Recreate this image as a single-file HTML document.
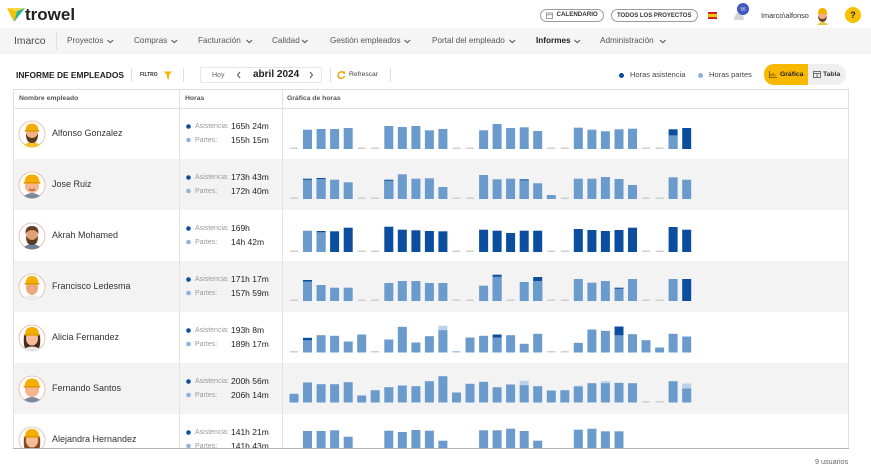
<!DOCTYPE html>
<html><head><meta charset="utf-8">
<style>
html,body{margin:0;padding:0}
body{width:871px;height:471px;position:relative;overflow:hidden;background:#fff;font-family:"Liberation Sans",Arial,sans-serif;color:#333}
.a{position:absolute;white-space:nowrap;line-height:1}
.nav{font-size:8.2px;color:#555;top:37.4px}
.vd{position:absolute;width:1px;background:#dedede}
.th{font-size:6.8px;font-weight:bold;color:#555;top:95.6px}
.nm{font-size:9px;color:#333}
.lb{font-size:7px;color:#9a9a9a}
.vl{font-size:8.5px;color:#222}
.L{fill:#6b9bcc}.K{fill:#0b4e9d}.P{fill:#bcd1ea}.D{fill:#cfcfcf}.PD{fill:#a9c4e4}
</style></head><body>

<!-- top header -->
<svg class="a" style="left:0;top:0" width="30" height="28">
<polygon points="7,8 17,11 14,22" fill="#f5c400"/>
<polygon points="14,22 17,11 25,8" fill="#2fb3a0"/>
<polygon points="7,8 25,8 17,11" fill="#f8d84a"/>
</svg>
<div class="a" style="left:25px;top:5.5px;font-size:17px;font-weight:bold;color:#222">trowel</div>

<div class="a" style="left:540px;top:9px;width:62px;height:11px;border:1px solid #9a9a9a;border-radius:7px"></div>
<svg class="a" style="left:546px;top:12px" width="7" height="7"><rect x="0.5" y="1" width="6" height="5.5" fill="none" stroke="#888" stroke-width="0.8"/><line x1="0.5" y1="2.8" x2="6.5" y2="2.8" stroke="#888" stroke-width="0.8"/></svg>
<div class="a" style="left:556.5px;top:12.4px;font-size:6.2px;font-weight:bold;color:#333">CALENDARIO</div>
<div class="a" style="left:611px;top:9px;width:85px;height:11px;border:1px solid #9a9a9a;border-radius:7px"></div>
<div class="a" style="left:617px;top:12.5px;font-size:6px;font-weight:bold;color:#333">TODOS LOS PROYECTOS</div>
<svg class="a" style="left:708px;top:12px" width="9" height="7"><rect width="9" height="7" fill="#c8102e"/><rect y="1.8" width="9" height="3.4" fill="#f4c300"/></svg>
<svg class="a" style="left:730px;top:2px" width="22" height="22">
<path d="M4 18 Q5 11 9 10 Q13 11 14 18 Z" fill="#d4d4d4"/>
<circle cx="13" cy="7" r="6" fill="#4457c0"/>
<text x="13" y="8.6" font-size="4.5" fill="#fff" text-anchor="middle" font-family="Liberation Sans">55</text>
</svg>
<div class="a" style="left:761px;top:12.4px;font-size:7.3px;color:#333">Imarco\alfonso</div>
<svg class="a" style="left:815px;top:6px" width="15" height="19">
<path d="M2 19 Q7.5 13 13 19Z" fill="#e9c531"/>
<ellipse cx="7.5" cy="10" rx="4.5" ry="5" fill="#f0b088"/>
<path d="M3 8 Q3 2 7.5 2 Q12 2 12 8Z" fill="#f2b200"/>
<path d="M3 10 Q3.5 16 7.5 16 Q11.5 16 12 10 Q10 13 7.5 13 Q5 13 3 10Z" fill="#6b3f22"/>
</svg>
<div class="a" style="left:845px;top:7px;width:16px;height:16px;border-radius:50%;background:#f7c000"></div>
<div class="a" style="left:850.3px;top:10.5px;font-size:9px;font-weight:bold;color:#222">?</div>

<!-- nav bar -->
<div class="a" style="left:0;top:28px;width:871px;height:26px;background:#f5f5f5"></div>
<div class="a" style="left:14px;top:36.5px;font-size:10.3px;color:#4a4a4a">Imarco</div>
<div class="vd" style="left:56px;top:33px;height:17px"></div>
<div class="a nav" style="left:67px">Proyectos</div>
<div class="a nav" style="left:134px">Compras</div>
<div class="a nav" style="left:198px">Facturación</div>
<div class="a nav" style="left:272px">Calidad</div>
<div class="a nav" style="left:330px">Gestión empleados</div>
<div class="a nav" style="left:432px">Portal del empleado</div>
<div class="a nav" style="left:536px;font-weight:bold;color:#222">Informes</div>
<div class="a nav" style="left:600px">Administración</div>
<svg class="a" style="left:0;top:0" width="871" height="60">
<g stroke="#555" stroke-width="1.1" fill="none">
<path d="M107.5 40l2.8 2.6 2.8-2.6"/>
<path d="M171.5 40l2.8 2.6 2.8-2.6"/>
<path d="M246.5 40l2.8 2.6 2.8-2.6"/>
<path d="M302 40l2.8 2.6 2.8-2.6"/>
<path d="M404.5 40l2.8 2.6 2.8-2.6"/>
<path d="M509.5 40l2.8 2.6 2.8-2.6"/>
<path d="M574.5 40l2.8 2.6 2.8-2.6"/>
<path d="M660 40l2.8 2.6 2.8-2.6"/>
</g></svg>

<!-- toolbar -->
<div class="a" style="left:16px;top:70.8px;font-size:8.4px;font-weight:bold;color:#222">INFORME DE EMPLEADOS</div>
<div class="vd" style="left:131px;top:68px;height:14px"></div>
<div class="a" style="left:140px;top:72.5px;font-size:5px;font-weight:bold;color:#333">FILTRO</div>
<svg class="a" style="left:164px;top:71px" width="8" height="9"><path d="M0 0.5H8L5 4.2V8.5L3 7.5V4.2Z" fill="#f5b800"/></svg>
<div class="vd" style="left:183px;top:68px;height:14px"></div>
<div class="a" style="left:200px;top:67px;width:120px;height:14px;border:1px solid #e6e6e6;border-radius:2px"></div>
<div class="a" style="left:212px;top:71.5px;font-size:7px;color:#666">Hoy</div>
<svg class="a" style="left:236px;top:71px" width="6" height="8"><path d="M4 1L1.5 4 4 7" stroke="#555" stroke-width="1" fill="none"/></svg>
<div class="a" style="left:253px;top:70px;font-size:10px;font-weight:bold;color:#222">abril 2024</div>
<svg class="a" style="left:308px;top:71px" width="6" height="8"><path d="M2 1L4.5 4 2 7" stroke="#555" stroke-width="1" fill="none"/></svg>
<div class="vd" style="left:330px;top:68px;height:14px"></div>
<svg class="a" style="left:337px;top:70px" width="9" height="10"><path d="M7 3.2A3.3 3.3 0 1 0 7.5 6" stroke="#f0a000" stroke-width="1.4" fill="none"/><path d="M5.2 1.2L8.2 1.5 7.6 4.4Z" fill="#f0a000"/></svg>
<div class="a" style="left:349px;top:71.6px;font-size:6.7px;color:#444">Refrescar</div>
<div class="vd" style="left:390px;top:68px;height:14px"></div>

<div class="a" style="left:618.5px;top:72.5px;width:5px;height:5px;border-radius:50%;background:#0b4e9d"></div>
<div class="a" style="left:630px;top:71.2px;font-size:7.5px;color:#444">Horas asistencia</div>
<div class="a" style="left:697.5px;top:72.5px;width:5px;height:5px;border-radius:50%;background:#8fb3da"></div>
<div class="a" style="left:709px;top:71.2px;font-size:7.5px;color:#444">Horas partes</div>
<div class="a" style="left:764px;top:64px;width:44px;height:21px;background:#f8b800;border-radius:10px 0 0 10px"></div>
<div class="a" style="left:808px;top:64px;width:38px;height:21px;background:#efefef;border-radius:0 10px 10px 0"></div>
<svg class="a" style="left:769px;top:71px" width="8" height="7"><path d="M0.5 0V6.5H8" stroke="#6b4a00" stroke-width="0.8" fill="none"/><path d="M2 5V3M4 5V2M6 5V3.5" stroke="#6b4a00" stroke-width="0.9"/></svg>
<div class="a" style="left:780px;top:71.6px;font-size:6.8px;font-weight:bold;color:#222">Gráfica</div>
<svg class="a" style="left:813px;top:71px" width="8" height="7"><rect x="0.5" y="0.5" width="7" height="6" fill="none" stroke="#555" stroke-width="0.8"/><path d="M0.5 2.5H7.5M4 2.5V6.5" stroke="#555" stroke-width="0.8"/></svg>
<div class="a" style="left:823px;top:71.6px;font-size:6.8px;font-weight:bold;color:#333">Tabla</div>

<!-- table -->
<div class="a" style="left:0;top:0;width:871px;height:448px;overflow:hidden">
<div class="a" style="left:13px;top:89px;width:835px;height:1px;background:#dcdcdc"></div>
<div class="a" style="left:13px;top:107.5px;width:835px;height:1px;background:#e2e2e2"></div>
<div class="a" style="left:14px;top:159px;width:834px;height:51px;background:#f3f3f3"></div>
<div class="a" style="left:14px;top:261px;width:834px;height:51px;background:#f3f3f3"></div>
<div class="a" style="left:14px;top:363px;width:834px;height:51px;background:#f3f3f3"></div>
<div class="vd" style="left:13px;top:89px;height:360px;background:#e0e0e0"></div>
<div class="vd" style="left:179px;top:89px;height:360px;background:#e2e2e2"></div>
<div class="vd" style="left:282px;top:89px;height:360px;background:#e2e2e2"></div>
<div class="vd" style="left:848px;top:89px;height:360px;background:#e0e0e0"></div>

<div class="a th" style="left:19px">Nombre empleado</div>
<div class="a th" style="left:185px">Horas</div>
<div class="a th" style="left:287px">Gráfica de horas</div>

<!-- avatars -->
<svg class="a" style="left:18px;top:119.5px" width="28" height="28"><circle cx="14" cy="14" r="13" fill="#fff" stroke="#e4b7a6" stroke-width="0.8"/><path d="M6 25 Q14 19 22 25 Q18 27.5 14 27.5 Q10 27.5 6 25Z" fill="#f0c22c"/><ellipse cx="14" cy="14" rx="6" ry="7" fill="#f2b083"/><path d="M7.5 11 Q7.5 3.5 14 3.5 Q20.5 3.5 20.5 11Z" fill="#f4ae00"/><rect x="6.5" y="10" width="15" height="1.6" rx="0.8" fill="#e09a00"/><path d="M8 14 Q8 23 14 23 Q20 23 20 14 Q17.5 18 14 18 Q10.5 18 8 14Z" fill="#5b3a22"/></svg>
<svg class="a" style="left:18px;top:170.5px" width="28" height="28"><circle cx="14" cy="14" r="13" fill="#fff" stroke="#e4b7a6" stroke-width="0.8"/><path d="M6 25 Q14 19 22 25 Q18 27.5 14 27.5 Q10 27.5 6 25Z" fill="#7a8aa0"/><ellipse cx="14" cy="15" rx="7" ry="7" fill="#f4b48c"/><path d="M6.5 12 Q6.5 3.5 14 3.5 Q21.5 3.5 21.5 12Z" fill="#f4ae00"/><rect x="5.5" y="11" width="17" height="1.6" rx="0.8" fill="#e09a00"/><path d="M11 18 Q14 20.5 17 18" stroke="#8a3b2a" stroke-width="0.9" fill="none"/></svg>
<svg class="a" style="left:18px;top:221.5px" width="28" height="28"><circle cx="14" cy="14" r="13" fill="#fff" stroke="#e4b7a6" stroke-width="0.8"/><path d="M6 25 Q14 19 22 25 Q18 27.5 14 27.5 Q10 27.5 6 25Z" fill="#6d7f96"/><ellipse cx="14" cy="14" rx="6" ry="7" fill="#e3a077"/><path d="M7.5 12 Q7 4 14 4 Q21 4 20.5 12 Q18 8 14 8 Q10 8 7.5 12Z" fill="#6b3f22"/><path d="M8 14 Q8 23 14 23 Q20 23 20 14 Q17.5 18 14 18 Q10.5 18 8 14Z" fill="#5b3a22"/></svg>
<svg class="a" style="left:18px;top:272.5px" width="28" height="28"><circle cx="14" cy="14" r="13" fill="#fff" stroke="#e4b7a6" stroke-width="0.8"/><path d="M6 25 Q14 19 22 25 Q18 27.5 14 27.5 Q10 27.5 6 25Z" fill="#ececec"/><ellipse cx="14" cy="14.5" rx="6" ry="7.5" fill="#e9a97d"/><path d="M7.5 11 Q7.5 3 14 3 Q20.5 3 20.5 11Z" fill="#f4ae00"/><rect x="6.5" y="10" width="15" height="1.6" rx="0.8" fill="#e09a00"/></svg>
<svg class="a" style="left:18px;top:323.5px" width="28" height="28"><circle cx="14" cy="14" r="13" fill="#fff" stroke="#e4b7a6" stroke-width="0.8"/><path d="M6 11 Q5 22 8 26 L20 26 Q23 22 22 11Z" fill="#4a2a1c"/><path d="M6 25 Q14 20 22 25 Q18 27.5 14 27.5 Q10 27.5 6 25Z" fill="#e7e7e7"/><ellipse cx="14" cy="14.5" rx="6" ry="7" fill="#f4bd98"/><path d="M7 11 Q7 3 14 3 Q21 3 21 11Z" fill="#f4ae00"/><rect x="6" y="10" width="16" height="1.6" rx="0.8" fill="#e09a00"/></svg>
<svg class="a" style="left:18px;top:374.5px" width="28" height="28"><circle cx="14" cy="14" r="13" fill="#fff" stroke="#e4b7a6" stroke-width="0.8"/><path d="M6 25 Q14 19 22 25 Q18 27.5 14 27.5 Q10 27.5 6 25Z" fill="#7a8aa0"/><ellipse cx="14" cy="15" rx="7" ry="7" fill="#f4b48c"/><path d="M6.5 12 Q6.5 3.5 14 3.5 Q21.5 3.5 21.5 12Z" fill="#f4ae00"/><rect x="5.5" y="11" width="17" height="1.6" rx="0.8" fill="#e09a00"/></svg>
<svg class="a" style="left:18px;top:425.5px" width="28" height="28"><circle cx="14" cy="14" r="13" fill="#fff" stroke="#e4b7a6" stroke-width="0.8"/><path d="M6 11 Q5 22 8 26 L20 26 Q23 22 22 11Z" fill="#8a4a2a"/><ellipse cx="14" cy="14.5" rx="6" ry="7" fill="#f4bd98"/><path d="M7 11 Q7 3 14 3 Q21 3 21 11Z" fill="#f4ae00"/><rect x="6" y="10" width="16" height="1.6" rx="0.8" fill="#e09a00"/></svg>

<!-- names -->
<div class="a nm" style="left:52px;top:129px">Alfonso Gonzalez</div>
<div class="a nm" style="left:52px;top:180px">Jose Ruiz</div>
<div class="a nm" style="left:52px;top:231px">Akrah Mohamed</div>
<div class="a nm" style="left:52px;top:282px">Francisco Ledesma</div>
<div class="a nm" style="left:52px;top:333px">Alicia Fernandez</div>
<div class="a nm" style="left:52px;top:384px">Fernando Santos</div>
<div class="a nm" style="left:52px;top:435px">Alejandra Hernandez</div>

<!-- hours -->
<svg class="a" style="left:0;top:0" width="200" height="449">
<g fill="#0b4e9d"><circle cx="188.5" cy="126.5" r="2.3"/><circle cx="188.5" cy="177.5" r="2.3"/><circle cx="188.5" cy="228.5" r="2.3"/><circle cx="188.5" cy="279.5" r="2.3"/><circle cx="188.5" cy="330.5" r="2.3"/><circle cx="188.5" cy="381.5" r="2.3"/><circle cx="188.5" cy="432.5" r="2.3"/></g>
<g fill="#8fb3da"><circle cx="188.5" cy="140" r="2.3"/><circle cx="188.5" cy="191" r="2.3"/><circle cx="188.5" cy="242" r="2.3"/><circle cx="188.5" cy="293" r="2.3"/><circle cx="188.5" cy="344" r="2.3"/><circle cx="188.5" cy="395" r="2.3"/><circle cx="188.5" cy="446" r="2.3"/></g>
</svg>
<div class="a lb" style="left:195px;top:123px">Asistencia:</div><div class="a vl" style="left:231px;top:122.2px">165h 24m</div>
<div class="a lb" style="left:195px;top:136.5px">Partes:</div><div class="a vl" style="left:231px;top:135.7px">155h 15m</div>
<div class="a lb" style="left:195px;top:174px">Asistencia:</div><div class="a vl" style="left:231px;top:173.2px">173h 43m</div>
<div class="a lb" style="left:195px;top:187.5px">Partes:</div><div class="a vl" style="left:231px;top:186.7px">172h 40m</div>
<div class="a lb" style="left:195px;top:225px">Asistencia:</div><div class="a vl" style="left:231px;top:224.2px">169h</div>
<div class="a lb" style="left:195px;top:238.5px">Partes:</div><div class="a vl" style="left:231px;top:237.7px">14h 42m</div>
<div class="a lb" style="left:195px;top:276px">Asistencia:</div><div class="a vl" style="left:231px;top:275.2px">171h 17m</div>
<div class="a lb" style="left:195px;top:289.5px">Partes:</div><div class="a vl" style="left:231px;top:288.7px">157h 59m</div>
<div class="a lb" style="left:195px;top:327px">Asistencia:</div><div class="a vl" style="left:231px;top:326.2px">193h 8m</div>
<div class="a lb" style="left:195px;top:340.5px">Partes:</div><div class="a vl" style="left:231px;top:339.7px">189h 17m</div>
<div class="a lb" style="left:195px;top:378px">Asistencia:</div><div class="a vl" style="left:231px;top:377.2px">200h 56m</div>
<div class="a lb" style="left:195px;top:391.5px">Partes:</div><div class="a vl" style="left:231px;top:390.7px">206h 14m</div>
<div class="a lb" style="left:195px;top:429px">Asistencia:</div><div class="a vl" style="left:231px;top:428.2px">141h 21m</div>
<div class="a lb" style="left:195px;top:442.5px">Partes:</div><div class="a vl" style="left:231px;top:441.7px">141h 43m</div>

<!-- bars -->
<svg class="a" style="left:0;top:0" width="871" height="448">
<g transform="translate(0,149) scale(1,-1)">
<rect class="D" x="290" width="8" height="1.5"/><rect class="D" x="357.7" width="8" height="1.5"/><rect class="D" x="371.2" width="8" height="1.5"/><rect class="D" x="452.5" width="8" height="1.5"/><rect class="D" x="466" width="8" height="1.5"/><rect class="D" x="547.3" width="8" height="1.5"/><rect class="D" x="560.8" width="8" height="1.5"/><rect class="D" x="642" width="8" height="1.5"/><rect class="D" x="655.6" width="8" height="1.5"/>
<rect class="L" x="303" width="9" height="19.3"/><rect class="L" x="316.6" width="9" height="20"/><rect class="L" x="330.1" width="9" height="20"/><rect class="L" x="343.7" width="9" height="21"/><rect class="L" x="384.3" width="9" height="23"/><rect class="L" x="397.8" width="9" height="22"/><rect class="L" x="411.4" width="9" height="23"/><rect class="L" x="424.9" width="9" height="18.7"/><rect class="L" x="438.4" width="9" height="20"/><rect class="L" x="479.1" width="9" height="18.7"/><rect class="L" x="492.6" width="9" height="25"/><rect class="L" x="506.1" width="9" height="21"/><rect class="L" x="519.7" width="9" height="21.7"/><rect class="L" x="533.2" width="9" height="18"/><rect class="L" x="573.8" width="9" height="21.3"/><rect class="L" x="587.4" width="9" height="19.3"/><rect class="L" x="600.9" width="9" height="17.7"/><rect class="L" x="614.5" width="9" height="19.7"/><rect class="L" x="628" width="9" height="20.3"/>
<rect class="K" x="668.6" width="9" height="19.7"/><rect class="L" x="668.6" width="9" height="13.7"/><rect class="K" x="682.2" width="9" height="21"/>
</g>
<g transform="translate(0,199) scale(1,-1)">
<rect class="D" x="290" width="8" height="1.5"/><rect class="D" x="357.7" width="8" height="1.5"/><rect class="D" x="371.2" width="8" height="1.5"/><rect class="D" x="452.5" width="8" height="1.5"/><rect class="D" x="466" width="8" height="1.5"/><rect class="D" x="560.8" width="8" height="1.5"/><rect class="D" x="642" width="8" height="1.5"/><rect class="D" x="655.6" width="8" height="1.5"/>
<rect class="K" x="303" width="9" height="20.3"/><rect class="L" x="303" width="9" height="19.3"/>
<rect class="K" x="316.6" width="9" height="21"/><rect class="L" x="316.6" width="9" height="20"/>
<rect class="L" x="330.1" width="9" height="19.3"/><rect class="L" x="343.7" width="9" height="16.7"/>
<rect class="K" x="384.3" width="9" height="19.3"/><rect class="L" x="384.3" width="9" height="18.3"/>
<rect class="L" x="397.8" width="9" height="24.7"/><rect class="L" x="411.4" width="9" height="20.3"/><rect class="L" x="424.9" width="9" height="20.7"/><rect class="L" x="438.4" width="9" height="12"/>
<rect class="L" x="479.1" width="9" height="24"/><rect class="L" x="492.6" width="9" height="19.7"/><rect class="L" x="506.1" width="9" height="20.3"/>
<rect class="K" x="519.7" width="9" height="19.7"/><rect class="L" x="519.7" width="9" height="18.7"/>
<rect class="L" x="533.2" width="9" height="15.7"/><rect class="L" x="546.8" width="9" height="4"/>
<rect class="L" x="573.8" width="9" height="20.3"/><rect class="L" x="587.4" width="9" height="20.3"/><rect class="L" x="600.9" width="9" height="22"/><rect class="L" x="614.5" width="9" height="20"/><rect class="L" x="628" width="9" height="14"/>
<rect class="L" x="668.6" width="9" height="21.7"/><rect class="L" x="682.2" width="9" height="19.3"/>
</g>
<g transform="translate(0,252) scale(1,-1)">
<rect class="D" x="290" width="8" height="1.5"/><rect class="D" x="357.7" width="8" height="1.5"/><rect class="D" x="371.2" width="8" height="1.5"/><rect class="D" x="452.5" width="8" height="1.5"/><rect class="D" x="466" width="8" height="1.5"/><rect class="D" x="547.3" width="8" height="1.5"/><rect class="D" x="560.8" width="8" height="1.5"/><rect class="D" x="642" width="8" height="1.5"/><rect class="D" x="655.6" width="8" height="1.5"/>
<rect class="L" x="303" width="9" height="21.3"/>
<rect class="K" x="316.6" width="9" height="21"/><rect class="L" x="316.6" width="9" height="19.8"/>
<rect class="K" x="330.1" width="9" height="20.7"/><rect class="K" x="343.7" width="9" height="24.3"/>
<rect class="K" x="384.3" width="9" height="25.3"/><rect class="K" x="397.8" width="9" height="22.3"/><rect class="K" x="411.4" width="9" height="21.7"/><rect class="K" x="424.9" width="9" height="21"/><rect class="K" x="438.4" width="9" height="20.7"/>
<rect class="K" x="479.1" width="9" height="22.3"/><rect class="K" x="492.6" width="9" height="21.3"/><rect class="K" x="506.1" width="9" height="19"/><rect class="K" x="519.7" width="9" height="21.3"/><rect class="K" x="533.2" width="9" height="21.3"/>
<rect class="K" x="573.8" width="9" height="23"/><rect class="K" x="587.4" width="9" height="22"/><rect class="K" x="600.9" width="9" height="21"/><rect class="K" x="614.5" width="9" height="22"/><rect class="K" x="628" width="9" height="24.3"/>
<rect class="K" x="668.6" width="9" height="25"/><rect class="K" x="682.2" width="9" height="22.3"/>
</g>
<g transform="translate(0,301) scale(1,-1)">
<rect class="D" x="290" width="8" height="1.5"/><rect class="D" x="357.7" width="8" height="1.5"/><rect class="D" x="371.2" width="8" height="1.5"/><rect class="D" x="452.5" width="8" height="1.5"/><rect class="D" x="466" width="8" height="1.5"/><rect class="D" x="506.6" width="8" height="1.5"/><rect class="D" x="547.3" width="8" height="1.5"/><rect class="D" x="560.8" width="8" height="1.5"/><rect class="D" x="642" width="8" height="1.5"/><rect class="D" x="655.6" width="8" height="1.5"/>
<rect class="K" x="303" width="9" height="21"/><rect class="L" x="303" width="9" height="19.5"/>
<rect class="L" x="316.6" width="9" height="16"/><rect class="L" x="330.1" width="9" height="13.3"/><rect class="L" x="343.7" width="9" height="13.3"/>
<rect class="L" x="384.3" width="9" height="18"/><rect class="L" x="397.8" width="9" height="20"/><rect class="L" x="411.4" width="9" height="20"/><rect class="L" x="424.9" width="9" height="18"/><rect class="L" x="438.4" width="9" height="18"/>
<rect class="L" x="479.1" width="9" height="15.3"/>
<rect class="K" x="492.6" width="9" height="26.3"/><rect class="L" x="492.6" width="9" height="24.3"/>
<rect class="L" x="519.7" width="9" height="19"/>
<rect class="K" x="533.2" width="9" height="24"/><rect class="L" x="533.2" width="9" height="20"/>
<rect class="L" x="573.8" width="9" height="22"/><rect class="L" x="587.4" width="9" height="18.3"/><rect class="L" x="600.9" width="9" height="20"/>
<rect class="K" x="614.5" width="9" height="13.3"/><rect class="L" x="614.5" width="9" height="12.3"/>
<rect class="L" x="628" width="9" height="22"/>
<rect class="L" x="668.6" width="9" height="22"/><rect class="K" x="682.2" width="9" height="22"/>
</g>
<g transform="translate(0,352.5) scale(1,-1)">
<rect class="D" x="290" width="8" height="1.5"/><rect class="D" x="371.2" width="8" height="1.5"/><rect class="D" x="547.3" width="8" height="1.5"/><rect class="D" x="560.8" width="8" height="1.5"/><rect class="PD" x="452.5" width="8" height="1.5"/>
<rect class="K" x="303" width="9" height="14.7"/><rect class="L" x="303" width="9" height="12.3"/>
<rect class="L" x="316.6" width="9" height="17.3"/><rect class="L" x="330.1" width="9" height="16.7"/><rect class="L" x="343.7" width="9" height="11"/><rect class="L" x="357.2" width="9" height="18"/>
<rect class="L" x="384.3" width="9" height="13"/><rect class="L" x="397.8" width="9" height="25.7"/><rect class="L" x="411.4" width="9" height="10"/><rect class="L" x="424.9" width="9" height="16.3"/>
<rect class="P" x="438.4" width="9" height="26.7"/><rect class="L" x="438.4" width="9" height="22.3"/>
<rect class="L" x="465.5" width="9" height="15"/><rect class="L" x="479.1" width="9" height="16.7"/>
<rect class="K" x="492.6" width="9" height="18"/><rect class="L" x="492.6" width="9" height="15"/>
<rect class="L" x="506.1" width="9" height="17.3"/><rect class="L" x="519.7" width="9" height="8.7"/><rect class="L" x="533.2" width="9" height="18.7"/>
<rect class="L" x="573.8" width="9" height="9.7"/><rect class="L" x="587.4" width="9" height="23"/><rect class="L" x="600.9" width="9" height="21.7"/>
<rect class="K" x="614.5" width="9" height="26"/><rect class="L" x="614.5" width="9" height="17.3"/>
<rect class="L" x="628" width="9" height="18.3"/><rect class="L" x="641.5" width="9" height="12.3"/><rect class="L" x="655.1" width="9" height="5"/><rect class="L" x="668.6" width="9" height="18.7"/><rect class="L" x="682.2" width="9" height="16"/>
</g>
<g transform="translate(0,402.5) scale(1,-1)">
<rect class="D" x="642" width="8" height="1.5"/><rect class="D" x="655.6" width="8" height="1.5"/>
<rect class="L" x="289.5" width="9" height="8.7"/><rect class="L" x="303" width="9" height="20"/><rect class="L" x="316.6" width="9" height="18.3"/><rect class="L" x="330.1" width="9" height="18.3"/><rect class="L" x="343.7" width="9" height="20.3"/><rect class="L" x="357.2" width="9" height="7"/><rect class="L" x="370.7" width="9" height="12.3"/><rect class="L" x="384.3" width="9" height="15.3"/><rect class="L" x="397.8" width="9" height="17"/><rect class="L" x="411.4" width="9" height="16.3"/><rect class="L" x="424.9" width="9" height="21.3"/><rect class="L" x="438.4" width="9" height="26.3"/><rect class="L" x="452" width="9" height="10"/><rect class="L" x="465.5" width="9" height="18.7"/><rect class="L" x="479.1" width="9" height="20.7"/><rect class="L" x="492.6" width="9" height="15.3"/><rect class="L" x="506.1" width="9" height="18"/>
<rect class="P" x="519.7" width="9" height="21.7"/><rect class="L" x="519.7" width="9" height="17.3"/>
<rect class="L" x="533.2" width="9" height="16.3"/><rect class="L" x="546.8" width="9" height="12"/><rect class="L" x="560.3" width="9" height="12.3"/>
<rect class="P" x="573.8" width="9" height="16.7"/><rect class="L" x="573.8" width="9" height="16"/>
<rect class="L" x="587.4" width="9" height="19.3"/>
<rect class="P" x="600.9" width="9" height="21.3"/><rect class="L" x="600.9" width="9" height="19.3"/>
<rect class="L" x="614.5" width="9" height="19.7"/><rect class="L" x="628" width="9" height="19.3"/><rect class="L" x="668.6" width="9" height="21.3"/>
<rect class="P" x="682.2" width="9" height="19"/><rect class="L" x="682.2" width="9" height="14"/>
</g>
<g transform="translate(0,454) scale(1,-1)">
<rect class="L" x="303" width="9" height="23"/><rect class="L" x="316.6" width="9" height="23"/><rect class="L" x="330.1" width="9" height="23.7"/><rect class="L" x="343.7" width="9" height="17.3"/>
<rect class="L" x="384.3" width="9" height="23.3"/><rect class="L" x="397.8" width="9" height="22"/><rect class="L" x="411.4" width="9" height="24"/><rect class="L" x="424.9" width="9" height="23.3"/><rect class="L" x="438.4" width="9" height="13.3"/>
<rect class="L" x="479.1" width="9" height="23.7"/><rect class="L" x="492.6" width="9" height="23.7"/><rect class="L" x="506.1" width="9" height="25.3"/><rect class="L" x="519.7" width="9" height="23"/><rect class="L" x="533.2" width="9" height="13.3"/>
<rect class="L" x="573.8" width="9" height="24.3"/><rect class="L" x="587.4" width="9" height="25.3"/><rect class="L" x="600.9" width="9" height="22.7"/><rect class="L" x="614.5" width="9" height="22.7"/>
</g>
</svg>
</div>
<div class="a" style="left:13px;top:448px;width:836px;height:1px;background:#b3b3b3"></div>

<div class="a" style="left:815px;top:458.4px;font-size:7.2px;color:#666">9 usuarios</div>
</body></html>
